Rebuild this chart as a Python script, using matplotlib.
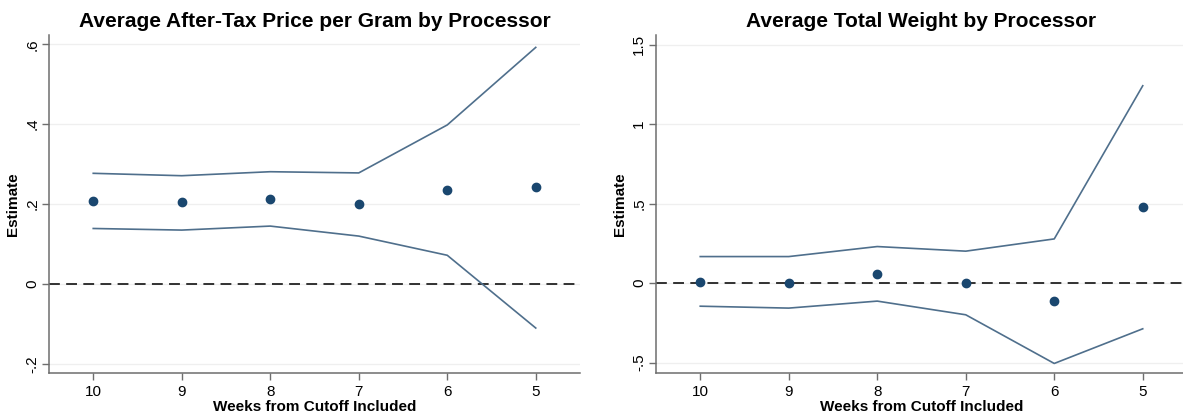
import matplotlib
matplotlib.use("Agg")
import matplotlib.pyplot as plt
from matplotlib.ticker import FuncFormatter

weeks = [10, 9, 8, 7, 6, 5]

# after-tax price per gram
price_est = [0.209, 0.205, 0.214, 0.199, 0.236, 0.242]
price_hi = [0.277, 0.271, 0.281, 0.278, 0.398, 0.592]
price_lo = [0.139, 0.135, 0.145, 0.120, 0.072, -0.110]
price_ticks = [-0.2, 0, 0.2, 0.4, 0.6]

# total weight
weight_est = [0.010, 0.000, 0.060, -0.002, -0.115, 0.481]
weight_hi = [0.167, 0.167, 0.230, 0.201, 0.278, 1.241]
weight_lo = [-0.145, -0.157, -0.113, -0.199, -0.505, -0.287]
weight_ticks = [-0.5, 0, 0.5, 1, 1.5]

DOT = "#1a476f"
LINE = "#4f6f8c"
AXIS = "#6e6e6e"

plt.rcParams["font.family"] = ["Liberation Sans", "DejaVu Sans"]


def stata_fmt(v, _pos=None):
    if abs(v) < 1e-9:
        return "0"
    s = f"{v:g}"
    return s.replace("0.", ".")


def panel(ax, title, est, hi, lo, ticks, ylim):
    for t in ticks:
        ax.axhline(t, color="#efefef", lw=0.9, zorder=0)
    ax.axhline(0, color="#222222", lw=1.3, ls=(0, (6, 3.5)), zorder=1)
    ax.plot(weeks, hi, color=LINE, lw=1.2, zorder=2)
    ax.plot(weeks, lo, color=LINE, lw=1.2, zorder=2)
    ax.plot(weeks, est, "o", color=DOT, ms=6, zorder=3)
    ax.set_xlim(10.5, 4.5)
    ax.set_ylim(*ylim)
    ax.set_xticks(weeks)
    ax.set_yticks(ticks)
    ax.yaxis.set_major_formatter(FuncFormatter(stata_fmt))
    for lab in ax.get_yticklabels():
        lab.set_rotation(90)
        lab.set_va("center")
    ax.tick_params(axis="both", labelsize=11, color=AXIS, length=5, width=1)
    ax.tick_params(axis="y", pad=2)
    for side in ("top", "right"):
        ax.spines[side].set_visible(False)
    for side in ("left", "bottom"):
        ax.spines[side].set_color(AXIS)
        ax.spines[side].set_linewidth(1.1)
    ax.set_title(title, fontsize=15, fontweight="bold", pad=5.5)
    ax.set_xlabel("Weeks from Cutoff Included", fontsize=11, fontweight="bold", labelpad=1)
    ax.set_ylabel("Estimate", fontsize=11, fontweight="bold", labelpad=4)


fig = plt.figure(figsize=(11.83, 4.17), dpi=100)
W, H = 1183, 417
ax1 = fig.add_axes([49 / W, (H - 373) / H, 531 / W, 338 / H])
ax2 = fig.add_axes([656 / W, (H - 373) / H, 531 / W, 338 / H])

panel(ax1, "Average After-Tax Price per Gram by Processor",
      price_est, price_hi, price_lo, price_ticks, (-0.2225, 0.623))
panel(ax2, "Average Total Weight by Processor",
      weight_est, weight_hi, weight_lo, weight_ticks, (-0.565, 1.56))

fig.savefig("out.png", dpi=100)
